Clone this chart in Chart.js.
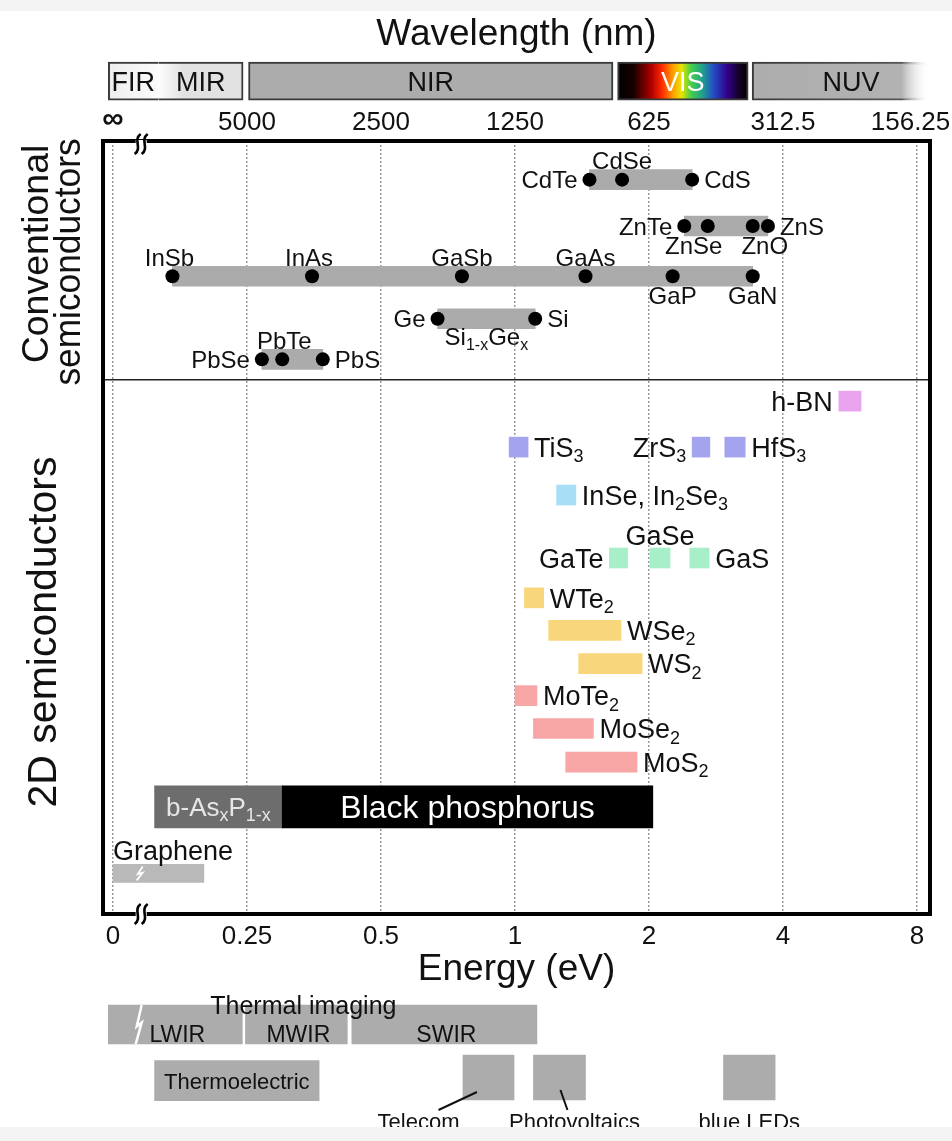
<!DOCTYPE html>
<html>
<head>
<meta charset="utf-8">
<script src="https://cdn.jsdelivr.net/npm/chart.js@4.4.0/dist/chart.umd.min.js"></script>
<style>
html, body { margin: 0; padding: 0; background: #fff; }
canvas { display: block; }
</style>
</head>
<body>
<canvas id="mycanvas" width="952" height="1141"></canvas>
<script>
// ---------- axis ticks (energy in eV, wavelength in nm) ----------
var energyTicks = [0.125, 0.25, 0.5, 1, 2, 4, 8];
var energyLabels = ['0', '0.25', '0.5', '1', '2', '4', '8'];
var wavelengthLabels = ['\u221E', '5000', '2500', '1250', '625', '312.5', '156.25'];

// ---------- spectral bands (top strip) ----------
var bandNames = ['FIR', 'MIR', 'NIR', 'VIS', 'NUV'];
var bandFrom = [0.122, 0.158, 0.252, 1.70, 3.41];
var bandTo = [0.158, 0.245, 1.66, 3.34, 8.55];
var bandRow = -1.55;

// ---------- conventional semiconductors ----------
var convRows = [1.0, 2.2, 3.5, 4.6, 5.65];
var convBarFrom = [1.47, 2.40, 0.17, 0.67, 0.27];
var convBarTo = [2.50, 3.70, 3.42, 1.11, 0.37];
var convBarNames = ['', '', '', 'Si_{1-x}Ge_x', ''];
var convNames = ['CdTe', 'CdSe', 'CdS', 'ZnTe', 'ZnSe', 'ZnO', 'ZnS', 'InSb', 'InAs', 'GaSb', 'GaAs', 'GaP', 'GaN', 'Ge', 'Si', 'PbSe', 'PbTe', 'PbS'];
var convGaps = [1.47, 1.74, 2.50, 2.40, 2.71, 3.42, 3.70, 0.17, 0.35, 0.76, 1.44, 2.26, 3.42, 0.67, 1.11, 0.27, 0.30, 0.37];
var convRowOf = [0, 0, 0, 1, 1, 1, 1, 2, 2, 2, 2, 2, 2, 3, 3, 4, 4, 4];
var sectionSplit = 6.18;

// ---------- 2D semiconductors ----------
var twoDNames = ['h-BN', 'TiS_3', 'ZrS_3', 'HfS_3', 'InSe, In_2Se_3', 'GaTe', 'GaSe', 'GaS', 'WTe_2', 'WSe_2', 'WS_2', 'MoTe_2', 'MoSe_2', 'MoS_2'];
var twoDFrom = [5.34, 0.97, 2.50, 2.96, 1.24, 1.63, 2.01, 2.47, 1.05, 1.19, 1.39, 1.00, 1.10, 1.30];
var twoDTo = [5.99, 1.07, 2.74, 3.29, 1.37, 1.79, 2.23, 2.73, 1.16, 1.73, 1.93, 1.12, 1.50, 1.88];
var twoDRows = [6.73, 7.92, 7.92, 7.92, 9.16, 10.79, 10.79, 10.79, 11.82, 12.66, 13.52, 14.35, 15.2, 16.07];
var twoDFamily = ['nitride', 'MX3', 'MX3', 'MX3', 'InSe', 'GaX', 'GaX', 'GaX', 'WX2', 'WX2', 'WX2', 'MoX2', 'MoX2', 'MoX2'];

var bpNames = ['b-As_xP_{1-x}', 'Black phosphorus'];
var bpFrom = [0.155, 0.30];
var bpTo = [0.30, 2.04];
var bpRow = 17.23;

var grapheneFrom = [0.125];
var grapheneTo = [0.20];
var grapheneRow = 18.95;

// ---------- applications (below the axis) ----------
var thermalTitle = 'Thermal imaging';
var thermalNames = ['LWIR', 'MWIR', 'SWIR'];
var thermalFrom = [0.122, 0.248, 0.43];
var thermalTo = [0.244, 0.42, 1.12];
var thermalRow = 22.86;

var thermoNames = ['Thermoelectric'];
var thermoFrom = [0.155];
var thermoTo = [0.363];
var thermoRow = 24.31;

var appNames = ['Telecom', 'Photovoltaics', 'blue LEDs'];
var appFrom = [0.764, 1.10, 2.94];
var appTo = [0.995, 1.44, 3.84];
var appRow = 24.23;

var breakE = 0.145;

// ---------- styles ----------
var FONT = '"Liberation Sans", Arial, sans-serif';
var familyColor = { nitride: '#e9a3ef', MX3: '#a3a3ee', InSe: '#a8dff6', GaX: '#a6efc8', WX2: '#f8d77c', MoX2: '#f7a5a5' };
var bandStyle = {
	FIR: { stops: [[0, '#eeeeee'], [1, '#fbfbfb']], text: '#111', border: { left: 2, top: 2, bottom: 2, right: 0 } },
	MIR: { stops: [[0, '#fdfdfd'], [0.3, '#e1e1e1'], [1, '#e1e1e1']], text: '#111', border: { left: 0, top: 2, bottom: 2, right: 2 } },
	NIR: { stops: [[0, '#acacac'], [1, '#acacac']], text: '#111', border: 2 },
	VIS: { stops: [[0, '#000'], [0.12, '#150000'], [0.26, '#b00000'], [0.34, '#ff2a00'], [0.42, '#ff9a00'], [0.49, '#e8e400'], [0.56, '#48d048'], [0.65, '#1fa08f'], [0.74, '#2448c4'], [0.84, '#320088'], [0.94, '#10001f'], [1, '#000']], text: '#fff', border: 2 },
	NUV: { stops: [[0, '#adadad'], [0.84, '#b2b2b2'], [1, 'rgba(255,255,255,0)']], text: '#111', border: { left: 2, top: 2, bottom: 2, right: 0 } }
};
var convSide = { CdTe: ['left', 0], CdSe: ['above', 0], CdS: ['right', 0], ZnTe: ['left', 0], ZnSe: ['below', -14], ZnO: ['below', 12], ZnS: ['right', 0],
	InSb: ['above', -3], InAs: ['above', -3], GaSb: ['above', 0], GaAs: ['above', 0], GaP: ['below', 0], GaN: ['below', 0],
	Ge: ['left', 0], Si: ['right', 0], PbSe: ['left', 0], PbTe: ['above', 2], PbS: ['right', 0] };
var twoDSide = { 'h-BN': 'left', TiS_3: 'right', ZrS_3: 'left', HfS_3: 'right', 'InSe, In_2Se_3': 'right', GaTe: 'left', GaSe: 'above', GaS: 'right',
	WTe_2: 'right', WSe_2: 'right', WS_2: 'right', MoTe_2: 'right', MoSe_2: 'right', MoS_2: 'right' };

function gradFor(c, stops) {
	var sc = c.chart.scales.x;
	if (!sc || !c.raw || !Array.isArray(c.raw.x)) return stops[0][1];
	var x0 = sc.getPixelForValue(c.raw.x[0]), x1 = sc.getPixelForValue(c.raw.x[1]);
	if (!isFinite(x0) || !isFinite(x1) || x0 === x1) return stops[0][1];
	var g = c.chart.ctx.createLinearGradient(x0, 0, x1, 0);
	stops.forEach(function(s) { g.addColorStop(s[0], s[1]); });
	return g;
}

function parseRich(text) {
	var parts = [], buf = '', i = 0;
	while (i < text.length) {
		if (text[i] === '_') {
			if (buf) { parts.push({ t: buf, sub: false }); buf = ''; }
			if (text[i + 1] === '{') {
				var j = text.indexOf('}', i);
				parts.push({ t: text.slice(i + 2, j), sub: true });
				i = j + 1;
			} else {
				parts.push({ t: text[i + 1], sub: true });
				i += 2;
			}
		} else { buf += text[i]; i++; }
	}
	if (buf) parts.push({ t: buf, sub: false });
	return parts;
}

// y is the vertical centre of the capitals
function richText(ctx, text, x, y, size, align, color) {
	var parts = parseRich(text);
	var sub = Math.round(size * 0.68);
	var w = 0;
	parts.forEach(function(p) {
		ctx.font = (p.sub ? sub : size) + 'px ' + FONT;
		p.w = ctx.measureText(p.t).width;
		w += p.w;
	});
	var sx = align === 'center' ? x - w / 2 : (align === 'right' ? x - w : x);
	var base = y + size * 0.36;
	ctx.fillStyle = color || '#111';
	ctx.textAlign = 'left';
	ctx.textBaseline = 'alphabetic';
	parts.forEach(function(p) {
		ctx.font = (p.sub ? sub : size) + 'px ' + FONT;
		ctx.fillText(p.t, sx, p.sub ? base + size * 0.2 : base);
		sx += p.w;
	});
}

function vText(ctx, text, cx, cy, size, stretch) {
	ctx.save();
	ctx.translate(cx, cy);
	ctx.rotate(-Math.PI / 2);
	ctx.scale(stretch, 1);
	ctx.font = size + 'px ' + FONT;
	ctx.fillStyle = '#111';
	ctx.textAlign = 'center';
	ctx.textBaseline = 'alphabetic';
	ctx.fillText(text, 0, size * 0.36);
	ctx.restore();
}

function barBox(chart, ds, i) {
	var el = chart.getDatasetMeta(ds).data[i];
	var left = Math.min(el.x, el.base), right = Math.max(el.x, el.base);
	return { left: left, right: right, cx: (left + right) / 2, y: el.y, top: el.y - el.height / 2, bottom: el.y + el.height / 2 };
}

function bolt(ctx, x, top, bottom, w) {
	var h = bottom - top;
	ctx.save();
	ctx.beginPath();
	ctx.moveTo(x + 3, top);
	ctx.lineTo(x - 2, top + h * 0.55);
	ctx.lineTo(x + 3, top + h * 0.45);
	ctx.lineTo(x - 3, bottom);
	ctx.strokeStyle = '#fff';
	ctx.lineWidth = w;
	ctx.stroke();
	ctx.restore();
}

function breakMark(ctx, x, y) {
	ctx.save();
	ctx.fillStyle = '#fff';
	ctx.fillRect(x - 6, y - 4, 11, 8);
	ctx.strokeStyle = '#000';
	ctx.lineWidth = 2.6;
	[-4, 3].forEach(function(dx) {
		ctx.beginPath();
		ctx.moveTo(x + dx + 3, y - 10);
		ctx.bezierCurveTo(x + dx - 5, y - 4, x + dx + 5, y + 4, x + dx - 3, y + 10);
		ctx.stroke();
	});
	ctx.restore();
}

// dataset indices
var DS_BAND = 0, DS_CONVBAR = 1, DS_DOTS = 2, DS_2D = 3, DS_BP = 4, DS_GR = 5, DS_THERMAL = 6, DS_THERMO = 7, DS_APP = 8;

var annotate = {
	id: 'annotate',
	beforeDraw: function(chart) {
		var ctx = chart.ctx;
		ctx.save();
		ctx.fillStyle = '#fff';
		ctx.fillRect(0, 0, chart.width, chart.height);
		ctx.fillStyle = '#f4f4f4';
		ctx.fillRect(0, 0, chart.width, 11);
		ctx.restore();
	},
	afterDraw: function(chart) {
		var ctx = chart.ctx, ca = chart.chartArea;
		var xs = chart.scales.x, ys = chart.scales.y;
		var midX = (ca.left + ca.right) / 2;
		ctx.save();

		// section separator
		var sy = ys.getPixelForValue(sectionSplit);
		ctx.strokeStyle = '#222';
		ctx.lineWidth = 1.5;
		ctx.beginPath();
		ctx.moveTo(ca.left, sy);
		ctx.lineTo(ca.right, sy);
		ctx.stroke();

		// frame
		ctx.lineWidth = 4;
		ctx.strokeStyle = '#000';
		ctx.strokeRect(ca.left, ca.top, ca.right - ca.left, ca.bottom - ca.top);
		var bx = xs.getPixelForValue(breakE);
		breakMark(ctx, bx, ca.top + 3);
		breakMark(ctx, bx, ca.bottom);

		// titles
		richText(ctx, 'Wavelength (nm)', midX, 32, 37, 'center');
		richText(ctx, 'Energy (eV)', midX, 967, 37, 'center');
		vText(ctx, 'Conventional', 35, 254, 36, 1.04);
		vText(ctx, 'semiconductors', 67, 262, 36, 0.98);
		vText(ctx, '2D semiconductors', 41, 632, 41, 1.0);

		// spectral band labels
		bandNames.forEach(function(n, i) {
			var b = barBox(chart, DS_BAND, i);
			richText(ctx, n, b.cx + (n === 'NUV' ? 10 : 0), b.y, 27, 'center', bandStyle[n].text);
		});

		// conventional semiconductors
		var dots = chart.getDatasetMeta(DS_DOTS).data;
		convNames.forEach(function(n, i) {
			var p = dots[i], s = convSide[n];
			if (s[0] === 'left') richText(ctx, n, p.x - 12, p.y, 24, 'right');
			else if (s[0] === 'right') richText(ctx, n, p.x + 12, p.y, 24, 'left');
			else if (s[0] === 'above') richText(ctx, n, p.x + s[1], p.y - 19, 24, 'center');
			else richText(ctx, n, p.x + s[1], p.y + 19, 24, 'center');
		});
		convBarNames.forEach(function(n, i) {
			if (!n) return;
			var b = barBox(chart, DS_CONVBAR, i);
			richText(ctx, n, b.cx, b.y + 18, 24, 'center');
		});

		// 2D semiconductors
		twoDNames.forEach(function(n, i) {
			var b = barBox(chart, DS_2D, i), side = twoDSide[n];
			if (side === 'left') richText(ctx, n, b.left - 6, b.y, 27, 'right');
			else if (side === 'right') richText(ctx, n, b.right + 6, b.y, 27, 'left');
			else richText(ctx, n, b.cx, b.y - 23, 27, 'center');
		});
		var bp0 = barBox(chart, DS_BP, 0), bp1 = barBox(chart, DS_BP, 1);
		richText(ctx, bpNames[0], bp0.cx, bp0.y, 26, 'center', '#e6e6e6');
		richText(ctx, bpNames[1], bp1.cx, bp1.y, 32, 'center', '#fff');
		var gr = barBox(chart, DS_GR, 0);
		richText(ctx, 'Graphene', gr.left, gr.y - 23, 27, 'left');
		bolt(ctx, bx - 2, gr.top + 2, gr.bottom - 2, 1.8);

		// applications
		thermalNames.forEach(function(n, i) {
			var b = barBox(chart, DS_THERMAL, i);
			richText(ctx, n, b.cx + 2, b.y + 9, 23, 'center');
		});
		var mw = barBox(chart, DS_THERMAL, 1), lw = barBox(chart, DS_THERMAL, 0);
		richText(ctx, thermalTitle, mw.cx + 7, mw.top, 25, 'center');
		bolt(ctx, bx - 3, lw.top, lw.bottom, 2.5);
		var th = barBox(chart, DS_THERMO, 0);
		richText(ctx, thermoNames[0], th.cx, th.y, 22, 'center');

		var appShift = [-70, 15, 0];
		var leaders = [[20, 14, 8], [-7, 27, 10], null];
		appNames.forEach(function(n, i) {
			var b = barBox(chart, DS_APP, i);
			var lx = b.cx + appShift[i], ly = b.bottom + 21;
			richText(ctx, n, lx, ly, 22, 'center');
			var ld = leaders[i];
			if (ld) {
				ctx.strokeStyle = '#111';
				ctx.lineWidth = 2;
				ctx.beginPath();
				ctx.moveTo(lx + ld[0], ly - 11);
				ctx.lineTo(b.left + ld[1], b.bottom - ld[2]);
				ctx.stroke();
			}
		});

		// bottom strip of the page
		ctx.fillStyle = '#f4f4f4';
		ctx.fillRect(0, 1127, chart.width, chart.height - 1127);
		ctx.restore();
	}
};

function span(from, to, row) {
	return from.map(function(v, i) { return { x: [v, to[i]], y: Array.isArray(row) ? row[i] : row }; });
}

var datasets = [
	{
		label: 'bands',
		data: span(bandFrom, bandTo, bandRow),
		barThickness: 38, grouped: false, clip: false, borderSkipped: false, order: 1,
		backgroundColor: function(c) {
			var s = bandStyle[bandNames[c.dataIndex]];
			return s ? gradFor(c, s.stops) : '#aaa';
		},
		borderColor: function(c) {
			if (bandNames[c.dataIndex] === 'NUV') return gradFor(c, [[0, '#3a3a3a'], [0.84, '#555'], [1, 'rgba(255,255,255,0)']]);
			return '#3a3a3a';
		},
		borderWidth: function(c) {
			var s = bandStyle[bandNames[c.dataIndex]];
			return s ? s.border : 2;
		}
	},
	{
		label: 'conventional',
		data: span(convBarFrom, convBarTo, convRows),
		barThickness: 20, grouped: false, backgroundColor: '#ababab', order: 1
	},
	{
		type: 'scatter',
		label: 'band gaps',
		data: convNames.map(function(n, i) { return { x: convGaps[i], y: convRows[convRowOf[i]] }; }),
		pointRadius: 7, pointBackgroundColor: '#000', pointBorderWidth: 0, order: 0
	},
	{
		label: '2D',
		data: span(twoDFrom, twoDTo, twoDRows),
		barThickness: 20, grouped: false, order: 1,
		backgroundColor: twoDFamily.map(function(f) { return familyColor[f]; })
	},
	{
		label: 'black phosphorus',
		data: span(bpFrom, bpTo, bpRow),
		barThickness: 42, grouped: false, order: 1,
		backgroundColor: ['#6d6d6d', '#000000']
	},
	{
		label: 'graphene',
		data: span(grapheneFrom, grapheneTo, grapheneRow),
		barThickness: 18, grouped: false, order: 1, backgroundColor: '#b9b9b9'
	},
	{
		label: 'thermal imaging',
		data: span(thermalFrom, thermalTo, thermalRow),
		barThickness: 39, grouped: false, clip: false, order: 1, backgroundColor: '#acacac'
	},
	{
		label: 'thermoelectric',
		data: span(thermoFrom, thermoTo, thermoRow),
		barThickness: 40, grouped: false, clip: false, order: 1, backgroundColor: '#acacac'
	},
	{
		label: 'applications',
		data: span(appFrom, appTo, appRow),
		barThickness: 45, grouped: false, clip: false, order: 1, backgroundColor: '#acacac'
	}
];

function fixAxis(s) {
	s.height = 40;
	s.paddingLeft = 0;
	s.paddingRight = 0;
}

var ctx = document.getElementById('mycanvas');
var chart = new Chart(ctx, {
	type: 'bar',
	data: { datasets: datasets },
	options: {
		indexAxis: 'y',
		responsive: false,
		devicePixelRatio: 1,
		animation: false,
		events: [],
		layout: { padding: { left: 103, right: 22, top: 101, bottom: 187 } },
		plugins: { legend: { display: false }, tooltip: { enabled: false } },
		scales: {
			x: {
				type: 'logarithmic', position: 'bottom', min: 0.1187, max: 8.556, bounds: 'data',
				afterBuildTicks: function(s) { s.ticks = energyTicks.map(function(v) { return { value: v }; }); },
				afterFit: fixAxis,
				ticks: { autoSkip: false, maxRotation: 0, padding: 7, color: '#111', font: { size: 26, family: FONT },
					callback: function(v, i) { return energyLabels[i]; } },
				grid: { color: '#9a9a9a', lineWidth: 1.5, drawTicks: false },
				border: { display: false, dash: [2, 2] }
			},
			x2: {
				type: 'logarithmic', axis: 'x', position: 'top', min: 0.1187, max: 8.556, bounds: 'data',
				afterBuildTicks: function(s) { s.ticks = energyTicks.map(function(v) { return { value: v }; }); },
				afterFit: fixAxis,
				ticks: { autoSkip: false, maxRotation: 0, padding: 3, color: '#111',
					font: function(c) { return { size: c.index === 0 ? 30 : 26, family: FONT, weight: c.index === 0 ? 'bold' : 'normal' }; },
					callback: function(v, i) {
						var t = wavelengthLabels[i];
						return i === wavelengthLabels.length - 1 ? t + '\u2002' : t;
					} },
				grid: { display: false, drawTicks: false },
				border: { display: false }
			},
			y: { type: 'linear', min: 0, max: 20, reverse: true, offset: false, display: false }
		}
	},
	plugins: [annotate]
});
</script>
</body>
</html>
